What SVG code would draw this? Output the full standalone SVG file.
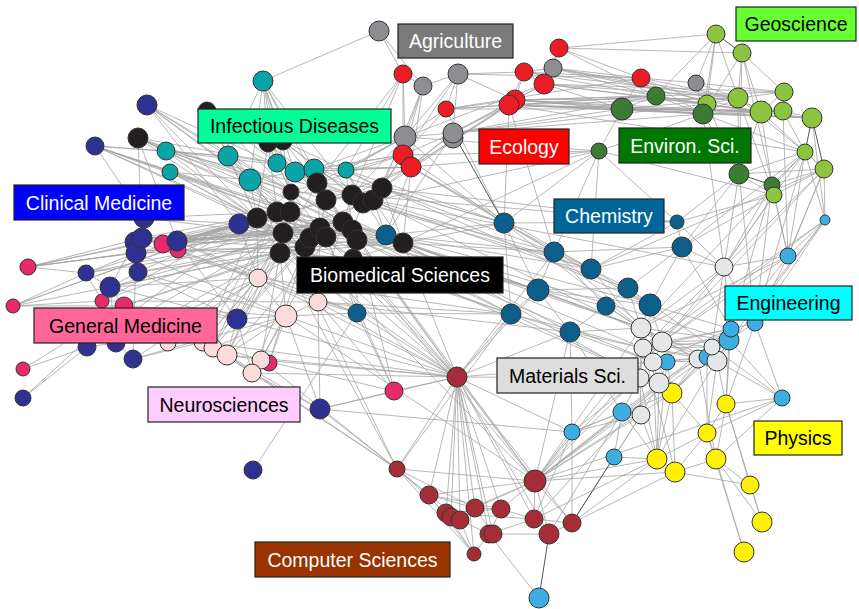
<svg xmlns="http://www.w3.org/2000/svg" width="859" height="609" viewBox="0 0 859 609">
<style>
.e{fill:none;stroke:#a5a5a5;stroke-width:0.8}
.dk{fill:none;stroke:#555;stroke-width:1}
circle{stroke:#333;stroke-width:1}
.t{fill:#08a4a6}.b{fill:#231f20}.c{fill:#2e3192}.g{fill:#e8296b}.n{fill:#fadcdd}
.a{fill:#8d8e91}.r{fill:#ec1c24}.v{fill:#3c7a35}.q{fill:#8cc43f}.h{fill:#0c5f8b}
.p{fill:#3daee2}.m{fill:#e5e6e8}.y{fill:#fff200}.k{fill:#a62d37}
.lb rect{stroke:#222;stroke-width:1.2}
.lb text{font-family:"Liberation Sans",Arial,sans-serif;font-size:19.5px;text-anchor:middle}
</style>
<rect width="859" height="609" fill="#fff"/>
<g id="connectors">
<path class="e" d="M317 183L326 200M317 183L352 195M317 183L382 188M317 183L277 212M317 183L320 228M317 183L343 222M326 200L352 195M326 200L290 212M326 200L320 228M326 200L352 230M352 195L373 200M352 195L382 188M352 195L343 222M363 203L352 230M363 203L382 188M373 200L403 243M382 188L403 243M257 218L277 212M257 218L283 233M257 218L280 253M277 212L310 238M290 212L305 247M290 212L320 228M283 233L305 247M283 233L326 237M280 253L305 247M280 253L357 240M305 247L352 230M310 238L343 222M320 228L357 240M343 222L403 243M352 230L403 243M357 240L403 243M291 192L257 218M291 192L352 195M291 192L283 233M268 143L291 192M283 141L317 183M283 141L363 203M268 143L277 212M207 111L291 192M207 111L257 218M138 138L257 218M138 138L290 212M138 138L291 192M353 258L280 253M353 258L277 212M353 258L403 243M268 143L326 200M283 141L382 188M291 192L326 237M317 183L280 253M373 200L283 233M382 188L310 238M257 218L343 222M277 212L357 240M283 233L352 230M257 218L403 243M291 192L403 243M280 253L403 243M290 212L353 258"/>
<path class="e" d="M263 81L228 156M263 81L250 180M263 81L277 163M263 81L295 172M263 81L314 169M263 81L268 143M263 81L283 141M263 81L317 183M263 81L379 31M166 151L228 156M166 151L138 138M166 151L291 192M166 151L314 169M170 172L250 180M170 172L257 218M170 172L290 212M228 156L250 180M228 156L277 163M228 156L277 212M250 180L295 172M250 180L257 218M250 180L305 247M277 163L314 169M277 163L317 183M295 172L346 170M295 172L352 195M314 169L373 200M346 170L382 188M346 170L386 235M346 170L411 167M314 169L405 137M295 172L403 155M166 151L352 195M170 172L320 228M228 156L343 222M250 180L352 230M207 111L228 156M207 111L277 163M138 138L277 163M95 146L228 156"/>
<path class="e" d="M147 105L257 218M147 105L228 156M147 105L317 183M147 105L250 180M147 105L239 224M95 146L170 172M95 146L257 218M95 146L144 218M95 146L290 212M95 146L166 151M138 138L142 238M138 138L326 200M138 138L177 241M144 218L277 212M144 218L239 224M142 238L177 241M142 238L277 212M135 242L110 287M138 272L110 287M138 272L280 253M86 273L110 287M86 273L136 253M86 273L102 301M86 273L257 218M110 287L124 306M110 287L116 343M177 241L239 224M177 241L257 218M177 241L283 233M177 241L320 228M177 241L258 278M177 241L343 222M239 224L257 218M239 224L283 233M239 224L326 237M239 224L258 278M239 224L403 243M237 319L258 278M237 319L203 342M237 319L227 355M237 319L280 253M237 319L286 316M237 319L177 241M87 347L116 343M87 347L124 306M87 347L110 287M116 343L133 359M116 343L168 343M133 359L203 342M133 359L136 253M23 398L87 347M23 398L124 306M320 409L227 355M320 409L252 373M320 409L286 316M320 409L572 432M320 409L397 469M320 409L318 302M253 470L357 313M163 244L239 224M163 244L257 218M163 244L283 233M178 250L280 253M178 250L305 247M28 267L239 224M28 267L257 218M28 267L86 273M28 267L142 238M13 306L86 273M13 306L110 287M13 306L102 301M13 306L124 306M23 369L87 347M23 369L124 306M269 363L286 316M269 363L305 247M394 391L318 302M394 391L457 377M394 391L357 313M394 391L326 237M394 391L261 360M394 391L357 240M110 287L280 253M110 287L258 278M102 301L283 233M124 306L286 316M124 306L305 247M116 343L258 278M87 347L257 218M133 359L286 316M102 301L318 302M138 272L286 316M136 253L403 243M142 238L352 230M135 242L258 278M144 218L310 238M138 272L237 319M110 287L237 319M124 306L237 319M168 343L258 278M203 342L257 218M213 348L277 212M227 355L283 233M28 267L136 253"/>
<path class="e" d="M138 138L343 222M138 138L357 240M147 105L290 212M147 105L343 222M95 146L320 228M95 146L283 233M95 146L352 230M28 267L283 233M28 267L320 228M13 306L257 218M13 306L239 224M86 273L283 233M86 273L326 237M102 301L257 218M110 287L305 247M110 287L343 222M124 306L280 253M138 272L257 218M138 272L326 237M136 253L290 212M135 242L283 233M142 238L320 228M142 238L403 243M163 244L343 222M163 244L326 237M178 250L257 218M177 241L290 212M177 241L305 247M116 343L280 253M133 359L258 278M87 347L283 233M168 343L283 233M203 342L280 253M213 348L305 247M237 319L320 228M227 355L343 222M252 373L305 247M261 360L280 253M239 224L305 247M239 224L352 230M239 224L290 212M257 218L320 228M257 218L326 237M277 212L343 222M283 233L357 240M280 253L343 222M290 212L352 195M291 192L343 222M317 183L352 230M326 200L382 188M283 141L352 195M268 143L317 183M268 143L257 218M283 141L290 212M166 151L257 218M170 172L283 233M228 156L257 218M228 156L290 212M250 180L277 212M277 163L291 192M295 172L326 200M314 169L343 222M346 170L363 203M346 170L352 230M207 111L317 183M207 111L283 233M263 81L291 192M263 81L352 195M346 170L405 137M314 169L403 155M295 172L411 167"/>
<path class="e" d="M258 278L286 316M258 278L283 233M258 278L257 218M258 278L305 247M258 278L203 342M318 302L286 316M318 302L305 247M318 302L320 228M318 302L343 222M286 316L227 355M286 316L261 360M286 316L280 253M286 316L213 348M227 355L261 360M252 373L227 355M318 302L357 313M286 316L357 313M213 348L283 233M227 355L280 253M203 342L277 212M261 360L326 237M252 373L237 319M318 302L457 377M286 316L457 377M261 360L203 342M252 373L213 348M252 373L457 377M261 360L457 377M320 409L394 391M258 278L457 377M237 319L457 377M227 355L457 377M227 355L397 469M203 342L457 377M177 241L357 313M178 250L357 313M142 238L318 302M136 253L286 316M257 218L357 313M258 278L511 314M283 233L397 469"/>
<path class="e" d="M386 235L403 243M386 235L373 200M386 235L343 222M386 235L504 223M357 313L357 240M357 313L326 237M357 313L511 314M357 313L457 377M504 223L554 252M504 223L538 290M504 223L591 269M504 223L382 188M504 223L403 243M504 223L411 167M504 223L511 314M554 252L538 290M554 252L591 269M554 252L606 306M554 252L650 305M554 252L403 243M538 290L511 314M538 290L570 332M538 290L628 288M538 290L606 306M538 290L357 240M591 269L628 288M591 269L677 222M591 269L682 247M591 269L650 305M628 288L650 305M628 288L606 306M628 288L641 328M606 306L570 332M606 306L641 328M650 305L682 247M650 305L641 328M650 305L662 342M677 222L682 247M677 222L739 174M677 222L599 151M682 247L724 267M682 247L628 288M511 314L457 377M511 314L570 332M570 332L641 328M570 332L643 348M570 332L535 481M570 332L622 412M511 314L352 230M538 290L343 222M554 252L363 203M591 269L599 151M677 222L774 195M682 247L739 174M504 223L599 151M554 252L509 105M504 223L677 222M554 252L682 247M538 290L641 328M538 290L650 305M511 314L643 348M511 314L659 383M570 332L653 362M606 306L662 342M628 288L712 347M682 247L731 329M677 222L724 267M591 269L641 328M504 223L641 328M554 252L662 342M591 269L824 169M682 247L805 152"/>
<path class="e" d="M403 243L538 290M382 188L554 252M373 200L591 269M343 222L650 305M403 243L641 328M357 240L511 314M403 243L640 378M326 237L659 383M403 243L570 332M363 203L591 269M373 200L724 267M352 195L677 222M346 170L504 223M411 167L554 252M411 167L591 269M239 224L511 314M318 302L511 314M318 302L570 332M357 240L653 362M305 247L535 481M352 230L535 481M382 188L650 305M373 200L662 342M352 195L628 288M343 222L643 348M403 243L729 340M352 230L641 328M320 228L538 290M353 258L511 314M353 258L535 481M286 316L535 481M403 155L504 223M314 169L504 223M405 137L504 223M446 109L504 223M382 188L677 222M363 203L599 151M403 243L599 151M386 235L554 252M386 235L591 269M386 235L641 328"/>
<path class="e" d="M724 267L641 328M724 267L662 342M724 267L788 256M724 267L739 174M724 267L824 169M724 267L731 329M641 328L662 342M641 328L640 378M643 348L653 362M643 348L640 378M662 342L653 362M662 342L698 359M662 342L712 347M653 362L659 383M653 362L667 362M653 362L698 359M659 383L640 378M659 383L672 393M659 383L641 415M659 383L622 412M640 378L641 415M640 378L622 412M662 342L731 329M662 342L729 340M662 342L717 361M641 328L729 340M643 348L707 357M653 362L717 361M712 347L717 361M712 347L729 340M698 359L717 361M717 361L729 340M717 361L782 398M717 361L726 404M698 359L672 393M659 383L657 459M641 415L657 459M755 323L731 329M755 323L788 256M755 323L724 267M788 256L825 220M825 220L824 169M788 256L805 152M788 256L824 169M755 323L726 404M782 398L729 340M782 398L726 404M782 398L755 323M729 340L672 393M707 357L672 393M707 357L707 433M667 362L659 383M667 362L672 393M622 412L572 432M622 412L614 457M622 412L657 459M572 432L535 481M572 432L570 332M572 432L640 378M572 432L672 393M614 457L657 459M614 457L641 415M539 598L489 534M788 256L662 342M788 256L641 328M825 220L662 342M825 220L643 348M788 256L731 329M825 220L729 340M755 323L698 359M731 329L643 348M731 329L653 362M729 340L643 348M731 329L650 305M729 340L659 383M782 398L712 347M782 398L716 459M707 357L641 328M731 329L672 393M724 267L712 347M724 267L643 348M724 267L774 195M724 267L772 185M698 359L641 328M717 361L643 348M712 347L643 348M707 357L653 362M641 415L572 432M641 415L535 481M653 362L535 481M643 348L535 481M641 328L535 481M640 378L457 377M659 383L534 519M622 412L535 481M622 412L549 534M572 432L572 523M572 432L534 519M825 220L755 323M825 220L717 361M782 398L707 433"/>
<path class="e" d="M672 393L657 459M672 393L675 472M726 404L707 433M726 404L716 459M726 404L750 485M707 433L675 472M707 433L716 459M707 433L657 459M657 459L675 472M675 472L716 459M675 472L750 485M716 459L750 485M716 459L762 522M750 485L762 522M744 552L716 459M744 552L707 433M657 459L572 523M675 472L535 481M657 459L640 378M672 393L641 328M707 433L717 361M716 459L698 359M726 404L731 329M726 404L729 340M657 459L653 362M657 459L667 362M675 472L643 348M657 459L729 340M675 472L572 523M762 522L726 404M672 393L707 433"/>
<path class="e" d="M457 377L397 469M457 377L429 495M457 377L446 513M457 377L451 517M457 377L460 520M457 377L475 508M457 377L501 509M457 377L535 481M457 377L534 519M457 377L489 534M457 377L474 554M457 377L357 240M457 377L305 247M457 377L352 230M457 377L538 290M457 377L320 409M457 377L353 258M457 377L570 332M457 377L653 362M457 377L572 432M457 377L572 523M457 377L549 534M457 377L493 534M457 377L280 253M457 377L403 243M457 377L554 252M457 377L326 237M457 377L290 212M397 469L429 495M397 469L446 513M397 469L475 508M397 469L535 481M397 469L474 554M397 469L460 520M397 469L252 373M397 469L261 360M397 469L280 253M397 469L511 314M429 495L475 508M429 495L535 481M446 513L501 509M451 517L535 481M460 520L489 534M475 508L501 509M475 508L535 481M475 508L493 534M501 509L535 481M501 509L534 519M501 509L489 534M535 481L534 519M535 481L572 523M535 481L549 534M535 481L729 340M535 481L662 342M534 519L549 534M534 519L572 523M489 534L474 554M493 534L549 534M474 554L446 513M474 554L429 495M549 534L572 523M460 520L474 554M572 523L641 415M534 519L657 459M489 534L534 519M429 495L501 509M446 513L534 519M535 481L782 398M535 481L672 393M535 481L712 347M535 481L731 329M535 481L657 459"/>
<path class="e" d="M379 31L403 74M379 31L423 86M403 74L423 86M403 74L403 155M403 74L405 137M403 74L352 195M403 74L346 170M423 86L458 74M423 86L403 155M423 86L405 137M423 86L411 167M423 86L382 188M458 74L405 137M458 74L446 109M458 74L453 133M458 74L515 100M458 74L524 72M458 74L373 200M446 109L509 105M446 109L515 100M446 109L405 137M446 109L403 155M446 109L641 78M405 137L453 133M405 137L352 195M405 137L373 200M405 137L346 170M405 137L317 183M403 155L373 200M403 155L346 170M403 155L382 188M411 167L352 195M411 167L314 169M411 167L403 243M411 167L386 235M453 133L509 105M453 133L515 100M453 133L403 155M453 133L411 167M453 133L382 188M453 133L386 235M453 133L544 84M453 133L622 109M453 133L707 104M524 72L515 100M524 72L544 84M524 72L553 68M524 72L641 78M524 72L509 105M559 48L553 68M559 48L544 84M559 48L641 78M559 48L656 96M559 48L716 34M544 84L515 100M544 84L622 109M544 84L707 104M544 84L738 98M515 100L622 109M515 100L656 96M515 100L703 114M515 100L761 112M509 105L622 109M509 105L812 118M509 105L703 114M509 105L738 98M509 105L783 111M509 105L411 167M509 105L382 188M509 105L504 223M641 78L656 96M641 78L696 83M641 78L622 109M641 78L707 104M641 78L703 114M641 78L738 98M553 68L641 78M553 68L656 96M553 68L761 112M553 68L783 111M696 83L703 114M696 83L738 98M696 83L784 92M696 83L716 34M515 100L411 167M544 84L405 137M405 137L599 151M403 155L599 151M411 167L599 151M515 100L812 118M544 84L784 92M509 105L761 112M446 109L656 96M403 155L291 192M411 167L326 200M403 74L317 183M515 100L784 92M509 105L805 152M544 84L761 112M524 72L656 96M524 72L738 98M553 68L738 98M559 48L742 53M446 109L622 109M453 133L703 114M453 133L656 96M458 74L641 78M515 100L738 98M509 105L656 96"/>
<path class="e" d="M656 96L622 109M656 96L703 114M656 96L716 34M656 96L707 104M656 96L761 112M622 109L599 151M622 109L703 114M622 109L738 98M622 109L783 111M622 109L812 118M622 109L761 112M599 151L703 114M599 151L554 252M703 114L738 98M703 114L761 112M703 114L739 174M703 114L742 53M703 114L812 118M703 114L805 152M739 174L738 98M739 174L805 152M739 174L824 169M739 174L774 195M772 185L761 112M772 185L824 169M772 185L805 152M772 185L788 256M772 185L742 53M716 34L707 104M716 34L738 98M742 53L738 98M742 53L761 112M742 53L784 92M742 53L739 174M707 104L738 98M707 104L761 112M738 98L761 112M738 98L784 92M784 92L783 111M784 92L761 112M761 112L783 111M761 112L812 118M783 111L812 118M783 111L805 152M805 152L824 169M805 152L774 195M824 169L774 195M824 169L788 256M774 195L788 256M774 195L724 267M805 152L825 220M812 118L825 220M599 151L774 195M703 114L724 267M783 111L788 256M761 112L739 174M772 185L755 323M774 195L682 247M716 34L703 114M738 98L805 152M707 104L739 174M761 112L824 169M738 98L774 195M824 169L662 342M805 152L755 323M805 152L641 328M739 174L755 323M772 185L731 329"/>
<path class="dk" d="M504 223L453 133M614 457L572 523M539 598L549 534M739 174L772 185M716 34L742 53M812 118L805 152M812 118L824 169"/>
</g>
<g id="nodes">
<g id="n-C1"><circle class="c" cx="147" cy="105" r="10"/></g>
<g id="n-C2"><circle class="c" cx="95" cy="146" r="9"/></g>
<g id="n-B2"><circle class="b" cx="138" cy="138" r="10"/></g>
<g id="n-B1"><circle class="b" cx="207" cy="111" r="9"/></g>
<g id="n-C3"><circle class="c" cx="144" cy="218" r="10"/></g>
<g id="n-G3"><circle class="g" cx="28" cy="267" r="8"/></g>
<g id="n-G4"><circle class="g" cx="13" cy="306" r="7"/></g>
<g id="n-C8"><circle class="c" cx="86" cy="273" r="8"/></g>
<g id="n-G5"><circle class="g" cx="102" cy="301" r="7"/></g>
<g id="n-C9"><circle class="c" cx="110" cy="287" r="10"/></g>
<g id="n-C5"><circle class="c" cx="135" cy="242" r="10"/></g>
<g id="n-C6"><circle class="c" cx="136" cy="253" r="10"/></g>
<g id="n-C4"><circle class="c" cx="142" cy="238" r="10"/></g>
<g id="n-C7"><circle class="c" cx="138" cy="272" r="9"/></g>
<g id="n-G1"><circle class="g" cx="163" cy="244" r="9"/></g>
<g id="n-G2"><circle class="g" cx="178" cy="250" r="8"/></g>
<g id="n-C10"><circle class="c" cx="177" cy="241" r="10"/></g>
<g id="n-G6"><circle class="g" cx="124" cy="306" r="9"/></g>
<g id="n-C13"><circle class="c" cx="87" cy="347" r="9"/></g>
<g id="n-C14"><circle class="c" cx="116" cy="343" r="9"/></g>
<g id="n-C15"><circle class="c" cx="133" cy="359" r="9"/></g>
<g id="n-G7"><circle class="g" cx="23" cy="369" r="7"/></g>
<g id="n-C16"><circle class="c" cx="23" cy="398" r="8"/></g>
<g id="n-C11"><circle class="c" cx="239" cy="224" r="10"/></g>
<g id="n-C12"><circle class="c" cx="237" cy="319" r="10"/></g>
<g id="n-C17"><circle class="c" cx="320" cy="409" r="10"/></g>
<g id="n-C18"><circle class="c" cx="253" cy="470" r="9"/></g>
<g id="n-G9"><circle class="g" cx="394" cy="391" r="9"/></g>
<g id="n-T1"><circle class="t" cx="263" cy="81" r="10"/></g>
<g id="n-T2"><circle class="t" cx="166" cy="151" r="9"/></g>
<g id="n-T3"><circle class="t" cx="170" cy="172" r="8"/></g>
<g id="n-T4"><circle class="t" cx="228" cy="156" r="10"/></g>
<g id="n-T5"><circle class="t" cx="250" cy="180" r="11"/></g>
<g id="n-T6"><circle class="t" cx="277" cy="163" r="9"/></g>
<g id="n-T7"><circle class="t" cx="295" cy="172" r="10"/></g>
<g id="n-T8"><circle class="t" cx="314" cy="169" r="10"/></g>
<g id="n-T9"><circle class="t" cx="346" cy="170" r="8"/></g>
<g id="n-H12"><circle class="h" cx="386" cy="235" r="10"/></g>
<g id="n-B3"><circle class="b" cx="268" cy="143" r="9"/></g>
<g id="n-B4"><circle class="b" cx="283" cy="141" r="9"/></g>
<g id="n-B5"><circle class="b" cx="291" cy="192" r="8"/></g>
<g id="n-B6"><circle class="b" cx="317" cy="183" r="10"/></g>
<g id="n-B7"><circle class="b" cx="326" cy="200" r="10"/></g>
<g id="n-B8"><circle class="b" cx="352" cy="195" r="10"/></g>
<g id="n-B9"><circle class="b" cx="363" cy="203" r="10"/></g>
<g id="n-B10"><circle class="b" cx="373" cy="200" r="10"/></g>
<g id="n-B11"><circle class="b" cx="382" cy="188" r="10"/></g>
<g id="n-B12"><circle class="b" cx="257" cy="218" r="10"/></g>
<g id="n-B13"><circle class="b" cx="277" cy="212" r="10"/></g>
<g id="n-B14"><circle class="b" cx="290" cy="212" r="10"/></g>
<g id="n-B15"><circle class="b" cx="283" cy="233" r="10"/></g>
<g id="n-B16"><circle class="b" cx="280" cy="253" r="10"/></g>
<g id="n-B17"><circle class="b" cx="305" cy="247" r="10"/></g>
<g id="n-B18"><circle class="b" cx="310" cy="238" r="10"/></g>
<g id="n-B19"><circle class="b" cx="320" cy="228" r="10"/></g>
<g id="n-B20"><circle class="b" cx="326" cy="237" r="10"/></g>
<g id="n-B21"><circle class="b" cx="343" cy="222" r="10"/></g>
<g id="n-B22"><circle class="b" cx="352" cy="230" r="10"/></g>
<g id="n-B23"><circle class="b" cx="357" cy="240" r="10"/></g>
<g id="n-B24"><circle class="b" cx="403" cy="243" r="10"/></g>
<g id="n-B25"><circle class="b" cx="353" cy="258" r="9"/></g>
<g id="n-N1"><circle class="n" cx="258" cy="278" r="9"/></g>
<g id="n-N2"><circle class="n" cx="318" cy="302" r="9"/></g>
<g id="n-N3"><circle class="n" cx="286" cy="316" r="11"/></g>
<g id="n-N4"><circle class="n" cx="168" cy="343" r="8"/></g>
<g id="n-N5"><circle class="n" cx="203" cy="342" r="9"/></g>
<g id="n-N6"><circle class="n" cx="213" cy="348" r="9"/></g>
<g id="n-N7"><circle class="n" cx="227" cy="355" r="10"/></g>
<g id="n-G8"><circle class="g" cx="269" cy="363" r="8"/></g>
<g id="n-N8"><circle class="n" cx="261" cy="360" r="9"/></g>
<g id="n-N9"><circle class="n" cx="252" cy="373" r="9"/></g>
<g id="n-A1"><circle class="a" cx="379" cy="31" r="10"/></g>
<g id="n-E1"><circle class="r" cx="403" cy="74" r="9"/></g>
<g id="n-A2"><circle class="a" cx="423" cy="86" r="9"/></g>
<g id="n-A3"><circle class="a" cx="458" cy="74" r="10"/></g>
<g id="n-E2"><circle class="r" cx="446" cy="109" r="8"/></g>
<g id="n-A4"><circle class="a" cx="405" cy="137" r="11"/></g>
<g id="n-E3"><circle class="r" cx="403" cy="155" r="10"/></g>
<g id="n-E4"><circle class="r" cx="411" cy="167" r="10"/></g>
<g id="n-A5b"><circle class="a" cx="453" cy="138" r="10"/></g>
<g id="n-A5"><circle class="a" cx="453" cy="133" r="10"/></g>
<g id="n-E5"><circle class="r" cx="524" cy="72" r="9"/></g>
<g id="n-E6"><circle class="r" cx="559" cy="48" r="9"/></g>
<g id="n-A6"><circle class="a" cx="553" cy="68" r="9"/></g>
<g id="n-E7"><circle class="r" cx="544" cy="84" r="10"/></g>
<g id="n-E8"><circle class="r" cx="515" cy="100" r="10"/></g>
<g id="n-E9"><circle class="r" cx="509" cy="105" r="10"/></g>
<g id="n-E10"><circle class="r" cx="641" cy="78" r="9"/></g>
<g id="n-A7"><circle class="a" cx="696" cy="83" r="8"/></g>
<g id="n-Q1"><circle class="q" cx="716" cy="34" r="9"/></g>
<g id="n-Q2"><circle class="q" cx="742" cy="53" r="9"/></g>
<g id="n-V1"><circle class="v" cx="656" cy="96" r="9"/></g>
<g id="n-V2"><circle class="v" cx="622" cy="109" r="11"/></g>
<g id="n-V3"><circle class="v" cx="599" cy="151" r="8"/></g>
<g id="n-Q3"><circle class="q" cx="707" cy="104" r="9"/></g>
<g id="n-V4"><circle class="v" cx="703" cy="114" r="10"/></g>
<g id="n-Q4"><circle class="q" cx="738" cy="98" r="10"/></g>
<g id="n-Q5"><circle class="q" cx="784" cy="92" r="9"/></g>
<g id="n-Q6"><circle class="q" cx="761" cy="112" r="11"/></g>
<g id="n-Q7"><circle class="q" cx="783" cy="111" r="9"/></g>
<g id="n-Q8"><circle class="q" cx="812" cy="118" r="10"/></g>
<g id="n-Q9"><circle class="q" cx="805" cy="152" r="8"/></g>
<g id="n-Q10"><circle class="q" cx="824" cy="169" r="9"/></g>
<g id="n-V5"><circle class="v" cx="739" cy="174" r="10"/></g>
<g id="n-V6"><circle class="v" cx="772" cy="185" r="8"/></g>
<g id="n-Q11"><circle class="q" cx="774" cy="195" r="8"/></g>
<g id="n-H1"><circle class="h" cx="504" cy="223" r="10"/></g>
<g id="n-H2"><circle class="h" cx="677" cy="222" r="7"/></g>
<g id="n-H3"><circle class="h" cx="682" cy="247" r="10"/></g>
<g id="n-H4"><circle class="h" cx="554" cy="252" r="10"/></g>
<g id="n-H5"><circle class="h" cx="538" cy="290" r="11"/></g>
<g id="n-H6"><circle class="h" cx="591" cy="269" r="10"/></g>
<g id="n-H7"><circle class="h" cx="628" cy="288" r="10"/></g>
<g id="n-H8"><circle class="h" cx="606" cy="306" r="9"/></g>
<g id="n-H9"><circle class="h" cx="650" cy="305" r="11"/></g>
<g id="n-H10"><circle class="h" cx="511" cy="314" r="10"/></g>
<g id="n-H11"><circle class="h" cx="570" cy="332" r="10"/></g>
<g id="n-H13"><circle class="h" cx="357" cy="313" r="9"/></g>
<g id="n-P1"><circle class="p" cx="825" cy="220" r="5"/></g>
<g id="n-P2"><circle class="p" cx="788" cy="256" r="8"/></g>
<g id="n-M1"><circle class="m" cx="724" cy="267" r="9"/></g>
<g id="n-P3"><circle class="p" cx="755" cy="323" r="8"/></g>
<g id="n-P5"><circle class="p" cx="729" cy="340" r="10"/></g>
<g id="n-P4"><circle class="p" cx="731" cy="329" r="8"/></g>
<g id="n-M10"><circle class="m" cx="698" cy="359" r="9"/></g>
<g id="n-P6"><circle class="p" cx="707" cy="357" r="8"/></g>
<g id="n-M11"><circle class="m" cx="717" cy="361" r="10"/></g>
<g id="n-M9"><circle class="m" cx="712" cy="347" r="8"/></g>
<g id="n-M2"><circle class="m" cx="641" cy="328" r="10"/></g>
<g id="n-M3"><circle class="m" cx="643" cy="348" r="9"/></g>
<g id="n-P7"><circle class="p" cx="667" cy="362" r="8"/></g>
<g id="n-M4"><circle class="m" cx="662" cy="342" r="10"/></g>
<g id="n-M5"><circle class="m" cx="653" cy="362" r="9"/></g>
<g id="n-Y1"><circle class="y" cx="672" cy="393" r="10"/></g>
<g id="n-M7"><circle class="m" cx="640" cy="378" r="9"/></g>
<g id="n-M6"><circle class="m" cx="659" cy="383" r="10"/></g>
<g id="n-P8"><circle class="p" cx="622" cy="412" r="9"/></g>
<g id="n-M8"><circle class="m" cx="641" cy="415" r="9"/></g>
<g id="n-P9"><circle class="p" cx="782" cy="398" r="8"/></g>
<g id="n-P10"><circle class="p" cx="572" cy="432" r="8"/></g>
<g id="n-P11"><circle class="p" cx="614" cy="457" r="8"/></g>
<g id="n-Y2"><circle class="y" cx="726" cy="404" r="9"/></g>
<g id="n-Y3"><circle class="y" cx="707" cy="433" r="9"/></g>
<g id="n-Y4"><circle class="y" cx="657" cy="459" r="10"/></g>
<g id="n-Y5"><circle class="y" cx="675" cy="472" r="10"/></g>
<g id="n-Y6"><circle class="y" cx="716" cy="459" r="10"/></g>
<g id="n-Y7"><circle class="y" cx="750" cy="485" r="9"/></g>
<g id="n-Y8"><circle class="y" cx="762" cy="522" r="10"/></g>
<g id="n-Y9"><circle class="y" cx="744" cy="552" r="10"/></g>
<g id="n-K1"><circle class="k" cx="457" cy="377" r="10"/></g>
<g id="n-K2"><circle class="k" cx="397" cy="469" r="8"/></g>
<g id="n-K3"><circle class="k" cx="429" cy="495" r="9"/></g>
<g id="n-K4"><circle class="k" cx="446" cy="513" r="9"/></g>
<g id="n-K5"><circle class="k" cx="451" cy="517" r="9"/></g>
<g id="n-K6"><circle class="k" cx="460" cy="520" r="9"/></g>
<g id="n-K7"><circle class="k" cx="475" cy="508" r="9"/></g>
<g id="n-K8"><circle class="k" cx="501" cy="509" r="9"/></g>
<g id="n-K9"><circle class="k" cx="535" cy="481" r="11"/></g>
<g id="n-K10"><circle class="k" cx="534" cy="519" r="9"/></g>
<g id="n-K11"><circle class="k" cx="572" cy="523" r="9"/></g>
<g id="n-K12"><circle class="k" cx="549" cy="534" r="10"/></g>
<g id="n-K13"><circle class="k" cx="489" cy="534" r="9"/></g>
<g id="n-K14"><circle class="k" cx="493" cy="534" r="9"/></g>
<g id="n-K15"><circle class="k" cx="474" cy="554" r="7"/></g>
<g id="n-P12"><circle class="p" cx="539" cy="598" r="10"/></g>
</g>
<g id="labels">
<g id="lbl-agriculture" class="lb"><rect x="398" y="24" width="115" height="34" fill="#7a7a7a"/><text x="455.5" y="48" fill="#fff">Agriculture</text></g>
<g id="lbl-infectious" class="lb"><rect x="198" y="109" width="193" height="34" fill="#00ff99"/><text x="294.5" y="133" fill="#000">Infectious Diseases</text></g>
<g id="lbl-ecology" class="lb"><rect x="479" y="129" width="90" height="35" fill="#ff0000"/><text x="524" y="153.5" fill="#fff">Ecology</text></g>
<g id="lbl-environ" class="lb"><rect x="619" y="128" width="132" height="35" fill="#007700"/><text x="685" y="152.5" fill="#fff">Environ. Sci.</text></g>
<g id="lbl-geoscience" class="lb"><rect x="736" y="7" width="120" height="34" fill="#66ff33"/><text x="796" y="31" fill="#000">Geoscience</text></g>
<g id="lbl-clinical" class="lb"><rect x="14" y="185" width="170" height="35" fill="#0000ff"/><text x="99" y="209.5" fill="#fff">Clinical Medicine</text></g>
<g id="lbl-chemistry" class="lb"><rect x="554" y="199" width="110" height="34" fill="#006699"/><text x="609" y="223" fill="#fff">Chemistry</text></g>
<g id="lbl-engineering" class="lb"><rect x="725" y="286" width="127" height="34" fill="#00ffff"/><text x="788.5" y="310" fill="#000">Engineering</text></g>
<g id="lbl-biomedical" class="lb"><rect x="297" y="257" width="206" height="36" fill="#000"/><text x="400" y="282" fill="#fff">Biomedical Sciences</text></g>
<g id="lbl-genmed" class="lb"><rect x="34" y="308" width="183" height="35" fill="#ff6699"/><text x="125.5" y="332.5" fill="#000">General Medicine</text></g>
<g id="lbl-neuro" class="lb"><rect x="148" y="387" width="152" height="35" fill="#ffccff"/><text x="224" y="411.5" fill="#000">Neurosciences</text></g>
<g id="lbl-materials" class="lb"><rect x="497" y="358" width="141" height="35" fill="#dddddd"/><text x="567.5" y="382.5" fill="#000">Materials Sci.</text></g>
<g id="lbl-physics" class="lb"><rect x="754" y="421" width="88" height="34" fill="#ffff00"/><text x="798" y="445" fill="#000">Physics</text></g>
<g id="lbl-computer" class="lb"><rect x="255" y="542" width="195" height="35" fill="#993300"/><text x="352.5" y="566.5" fill="#fff">Computer Sciences</text></g>
</g>
</svg>
